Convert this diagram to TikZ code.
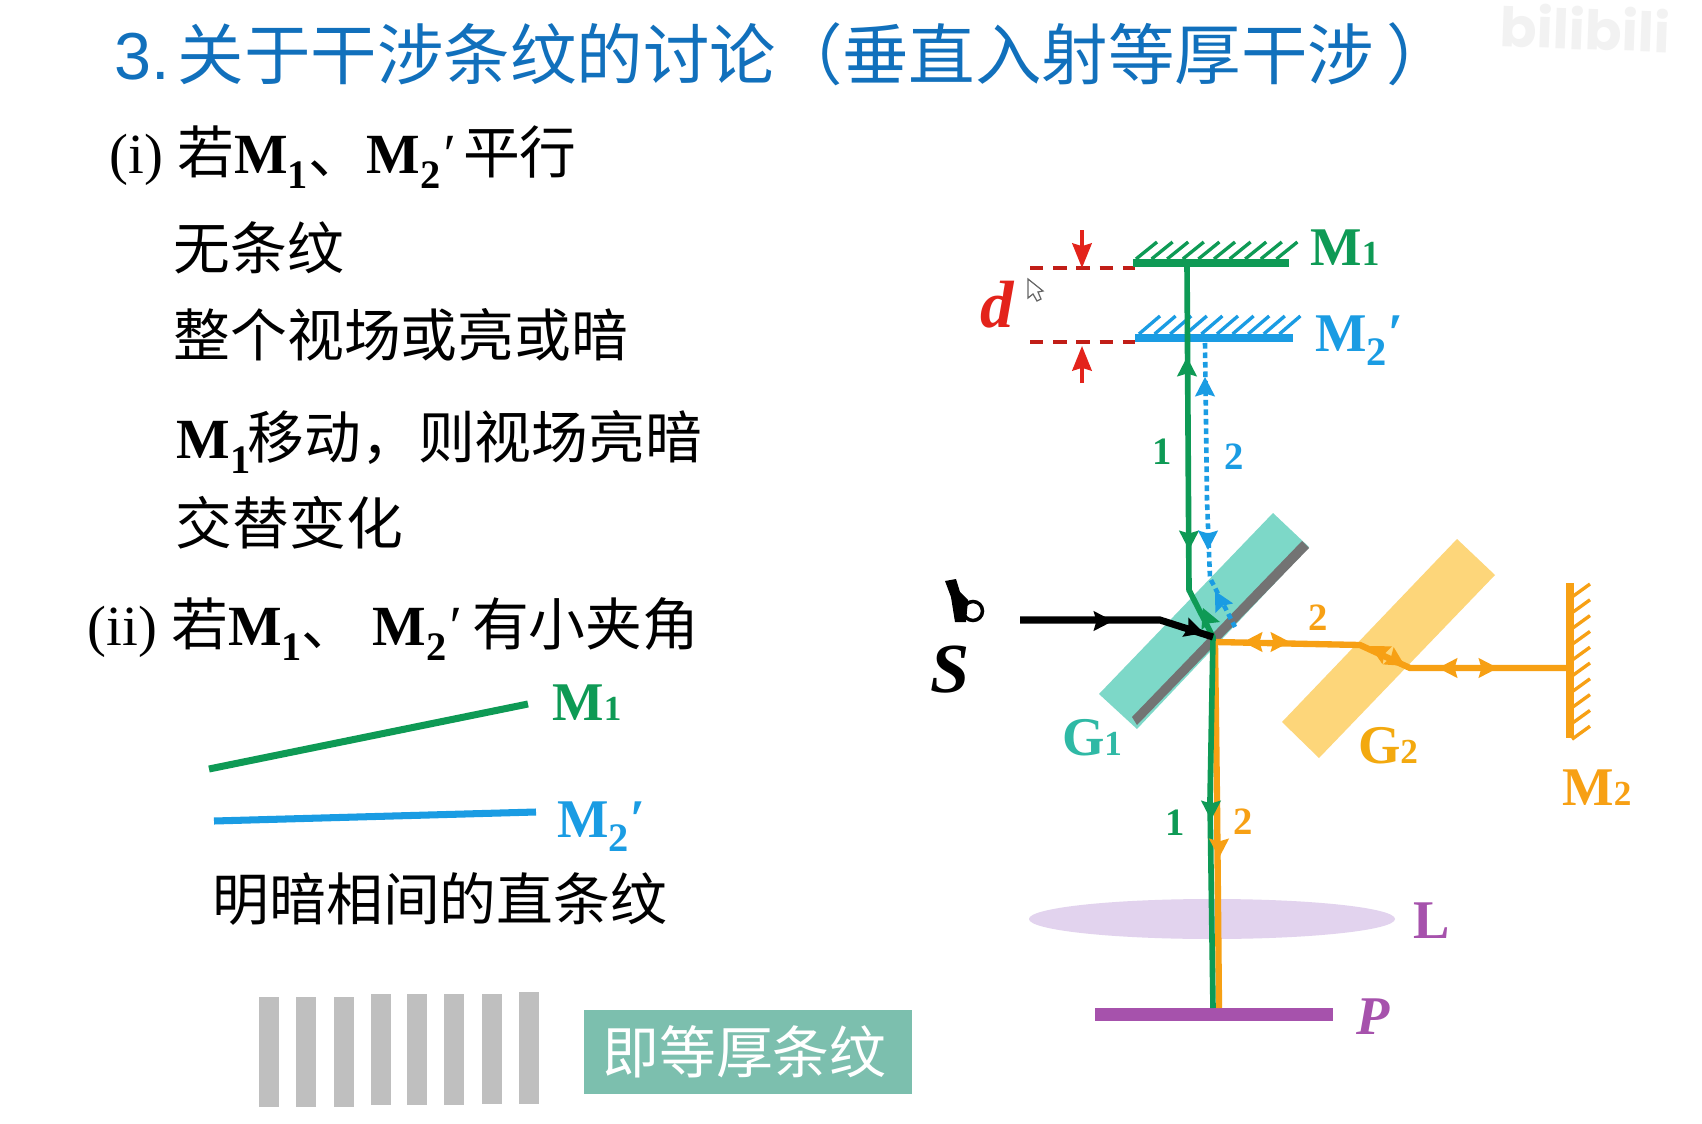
\documentclass[tikz,border=0pt]{standalone}
\usepackage{xcolor}
\usepackage{fontspec}
\usepackage{tikz}
\usetikzlibrary{arrows.meta}
\setmainfont{Liberation Serif}
\newfontfamily\cjk{Noto Sans CJK SC}
\newfontfamily\wmark{Poppins}
\definecolor{raygreen}{HTML}{0E9A55}
\definecolor{rayblue}{HTML}{1A9CE3}
\definecolor{rayorange}{HTML}{F7A014}
\definecolor{markred}{HTML}{E3231B}
\definecolor{lenspurple}{HTML}{A652AC}
\definecolor{lensfill}{HTML}{E2D3EE}
\definecolor{titleblue}{HTML}{1170BC}
\definecolor{plateone}{HTML}{7DD8C8}
\definecolor{platetwo}{HTML}{FDD67A}
\definecolor{labelone}{HTML}{2FB9A5}
\definecolor{labeltwo}{HTML}{F3A90F}
\definecolor{boxteal}{HTML}{7CBFAE}
\newcommand{\subdn}[1]{\raisebox{-.55ex}{\fontsize{11.5}{11.5}\selectfont\bfseries #1}}
\newcommand{\subon}[1]{{\fontsize{10}{10}\selectfont\bfseries #1}}
\begin{document}
\begin{tikzpicture}[x=0.01cm, y=-0.01cm,
    body/.style={anchor=west, inner sep=0, font=\fontsize{16.15}{16.15}\selectfont},
    lab/.style={inner sep=0, font=\fontsize{15.5}{15.5}\selectfont\bfseries},
    num/.style={inner sep=0, font=\fontsize{11}{11}\selectfont\bfseries},
    bar/.style={line width=2pt},
    hatch/.style={line width=.95pt},
    ray/.style={line width=1.6pt, line join=round},
    tip/.style={line width=.8pt, -{Stealth[length=5.5pt, width=5.6pt, inset=.8pt]}},
    dimline/.style={draw=markred!85!black, line width=1pt, dash pattern=on 3.8pt off 2.8pt},
    dimtip/.style={markred, line width=1.1pt, -{Stealth[length=7pt, width=5.5pt, inset=.8pt]}},
    fringe/.style={fill=black!25}]
  \useasboundingbox (0,0) rectangle (1702,1124);
  \fill[white] (0,0) rectangle (1702,1124);

  % heading and text
  \node[rotate=-2, text=black!5, inner sep=0, font=\wmark\fontsize{15.5}{15.5}\selectfont\bfseries] (wm) at (1585,28) {bilibili};
  \node[anchor=west, inner sep=0, text=titleblue, font=\fontsize{18.9}{18.9}\selectfont] (title) at (114,54)
    {{\fontspec{Liberation Sans}3.\kern2.2pt}{\cjk 关于干涉条纹的讨论（垂直入射等厚干涉\kern3.5pt）}};
  \node[body] (one) at (109,157) {(i) {\cjk 若}\textbf{M}\subdn{1}{\cjk 、\kern.5pt}\textbf{M}\subdn{2}\textit{′}\,{\cjk 平行}};
  \node[body] (nofr) at (173,248) {\cjk 无条纹};
  \node[body] (view) at (173,335) {\cjk 整个视场或亮或暗};
  \node[body] (move) at (176,442) {\textbf{M}\subdn{1}\kern-.8pt{\cjk 移动，则视场亮暗}};
  \node[body] (alter) at (175,523) {\cjk 交替变化};
  \node[body] (two) at (87,629) {(ii) {\cjk 若}\textbf{M}\subdn{1}{\cjk 、\kern4pt}\textbf{M}\subdn{2}\textit{′}\kern3.5pt{\cjk 有小夹角}};

  % wedge on the left
  \draw[raygreen, line width=2pt] (209,769) -- (528,704);
  \draw[rayblue, line width=2pt] (214,821) -- (536,812);
  \node[lab, text=raygreen] (wone) at (587,703) {M\subon{1}};
  \node[lab, text=rayblue] (wtwo) at (601,827) {M\subdn{2}\textit{′}};
  \node[body] (fr) at (212,899) {\cjk 明暗相间的直条纹};
  \foreach \x/\t/\b in {259/997/1107, 296/997/1107, 334/997/1107, 371/994/1105, 407/994/1105, 444/994/1105, 482/994/1104, 519/992/1104}
    \fill[fringe] (\x,\t) rectangle ({\x+20},\b);
  \node[fill=boxteal, minimum width=328*0.01cm, minimum height=84*0.01cm, inner sep=0, text=white, font=\fontsize{16.15}{16.15}\selectfont\cjk] (same) at (748,1052) {\kern-2pt\raisebox{1pt}{即等厚条纹}};

  % plates and lens
  \fill[plateone] (1273,513) -- (1309,547) -- (1137,729) -- (1099,694) -- cycle;
  \fill[black!55] (1302,541) -- (1309,548) -- (1137,725) -- (1132,717) -- cycle;
  \fill[platetwo] (1457,539) -- (1495,575) -- (1319,758) -- (1282,722) -- cycle;
  \fill[lensfill] (1212,919) ellipse (183 and 20);
  \fill[lenspurple] (1095,1008) rectangle (1333,1021);

  % mirrors
  \draw[dimline] (1030,268) -- (1135,268);
  \draw[dimline] (1030,342) -- (1135,342);
  \draw[dimtip] (1082,230) -- (1082,268);
  \draw[dimtip] (1082,383) -- (1082,346);
  \foreach \i in {0,...,9} {
    \draw[raygreen, hatch] ({1136+15.6*\i},259) -- ({1157+15.6*\i},242);
    \draw[rayblue, hatch] ({1139+15.6*\i},334) -- ({1160+15.6*\i},316);
    \draw[rayorange, hatch] (1572,{597+15.8*\i}) -- (1590,{584+15.8*\i});
  }
  \draw[raygreen, bar] (1133,263) -- (1289,263);
  \draw[rayblue, bar] (1135,338) -- (1293,338);
  \draw[rayorange, bar] (1570,583) -- (1570,738);

  % rays
  \coordinate (mone) at (1187,263);
  \coordinate (bend) at (1189,590);
  \coordinate (split) at (1213,637);
  \coordinate (exit) at (1210,800);
  \coordinate (ptop) at (1213,1008);
  \coordinate (otop) at (1215,642);
  \coordinate (oin) at (1360,645);
  \coordinate (oout) at (1410,668);
  \coordinate (mtwo) at (1567,668);
  \draw[rayblue, line width=1.3pt, dash pattern=on 1.6pt off 1.1pt] (1205,343) -- (1207,500) -- (1210,578) -- (1235,627);
  \draw[rayorange, ray, line width=1.8pt] (otop) -- (oin) -- (oout) -- (mtwo);
  \draw[rayorange, ray, line width=1.8pt] (otop) -- (1217,800) -- (1219,1008);
  \draw[raygreen, ray] (mone) -- (bend) -- (split) -- (exit) -- (ptop);
  \draw[black, line width=2pt] (1020,620) -- (1160,620) -- (split);

  % arrowheads on the rays
  \draw[raygreen, tip] (1187,372) -- (1187,357);
  \draw[raygreen, tip] (1189,535) -- (1189,550);
  \draw[raygreen, tip] (1209,622) -- (1203,608);
  \draw[raygreen, tip] (1211,805) -- (1211,820);
  \draw[rayblue, tip] (1205,392) -- (1205,377);
  \draw[rayblue, tip] (1208,535) -- (1208,550);
  \draw[rayblue, tip] (1222,604) -- (1215,591);
  \draw[black, tip] (1098,621) -- (1113,621);
  \draw[black, tip] (1188,628) -- (1204,633);
  \draw[rayorange, tip] (1258,642) -- (1243,642);
  \draw[rayorange, tip] (1275,642) -- (1290,642);
  \draw[rayorange, tip] (1383,653) -- (1370,646);
  \draw[rayorange, tip] (1392,658) -- (1405,666);
  \draw[rayorange, tip] (1453,668) -- (1438,668);
  \draw[rayorange, tip] (1483,668) -- (1498,668);
  \draw[rayorange, tip] (1219,843) -- (1219,858);

  % lamp and mouse pointer
  \fill[black] (945,581) -- (956,579) -- (960,592) -- (968,600) -- (966,622) -- (955,622) -- (951,597) -- cycle;
  \draw[black, line width=1pt] (973,611) circle (9.5);
  \draw[black!60, fill=white, line width=.35pt] (1028,279) -- (1028,298) -- (1033,294) -- (1037,301) -- (1041,299) -- (1038,292) -- (1043,291) -- cycle;

  % labels
  \node[inner sep=0, text=markred, font=\fontsize{19}{19}\selectfont\bfseries\itshape] (d) at (997,305) {d};
  \node[inner sep=0, font=\fontsize{20}{20}\selectfont\bfseries\itshape] (s) at (950,670) {S};
  \node[lab, text=raygreen] (lone) at (1345,248) {M\subon{1}};
  \node[lab, text=rayblue] (ltwo) at (1359,341) {M\subdn{2}\textit{′}};
  \node[lab, text=rayorange] (lmtwo) at (1597,788) {M\subon{2}};
  \node[lab, text=labelone] (gone) at (1092,738) {G\subon{1}};
  \node[lab, text=labeltwo] (gtwo) at (1388,746) {G\subon{2}};
  \node[lab, text=lenspurple] (l) at (1432,921) {L};
  \node[lab, text=lenspurple, font=\fontsize{15.5}{15.5}\selectfont\bfseries\itshape] (p) at (1373,1017) {P};
  \node[num, text=raygreen] (ra) at (1162,452) {1};
  \node[num, text=rayblue] (rb) at (1234,457) {2};
  \node[num, text=rayorange] (rc) at (1318,618) {2};
  \node[num, text=raygreen] (rd) at (1175,823) {1};
  \node[num, text=rayorange] (re) at (1243,822) {2};
\end{tikzpicture}
\end{document}
